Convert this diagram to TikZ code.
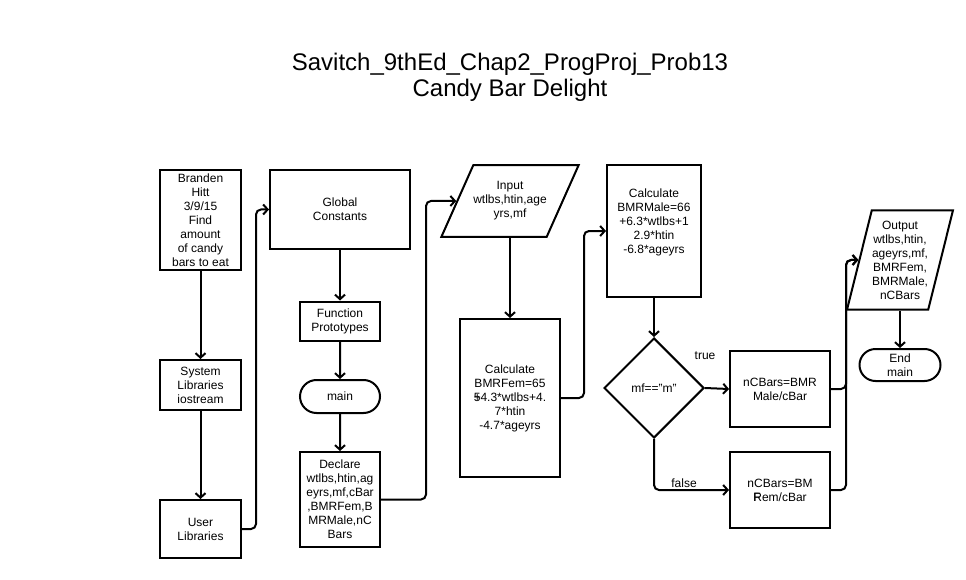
\documentclass[tikz,border=0pt]{standalone}
\usepackage{fontspec}
\setmainfont{Liberation Sans}
\usetikzlibrary{shapes.geometric,shapes.misc,arrows.meta}

\begin{document}
\begin{tikzpicture}[x=1pt,y=-1pt,
            every node/.style={font=\fontsize{12}{14}\selectfont, align=center},
            box/.style={draw, line width=2pt, inner sep=0pt},
            io/.style={draw, line width=2pt, trapezium, trapezium stretches body=true, inner xsep=0pt},
            term/.style={draw, line width=2pt, rounded rectangle, inner sep=0pt},
            decide/.style={draw, line width=2pt, diamond, inner sep=0pt,
                minimum width=100pt, minimum height=100pt},
            flow/.style={line width=2pt, rounded corners=5pt,
                -{Straight Barb[length=4.5pt,width=10pt]}}]
            \useasboundingbox (0,0) rectangle (966,580);
            \node[font=\fontsize{24}{26}\selectfont] (title) at (510,77)
                {Savitch\_9thEd\_Chap2\_ProgProj\_Prob13\\Candy Bar Delight};
            % left column
            \node[box, minimum width=81pt, minimum height=100pt] (author) at (200.5,220)
                {Branden\\Hitt\\3/9/15\\Find\\amount\\of candy\\bars to eat};
            \node[box, minimum width=81pt, minimum height=50pt] (syslib) at (200.5,385)
                {System\\Libraries\\iostream};
            \node[box, minimum width=81pt, minimum height=58pt] (userlib) at (200.5,529)
                {User\\Libraries};
            % second column
            \node[box, minimum width=140pt, minimum height=79pt] (global) at (340,209.5)
                {Global\\Constants};
            \node[box, minimum width=80pt, minimum height=39pt] (proto) at (340,321)
                {Function\\Prototypes};
            \node[term, minimum width=80pt, minimum height=33pt] (main) at (340,396.5) {main};
            \node[box, minimum width=80pt, minimum height=95pt] (declare) at (340,499.5)
                {Declare\\wtlbs,htin,ag\\eyrs,mf,cBar\\,BMRFem,B\\MRMale,nC\\Bars};
            % input and calculations
            \node[io, trapezium left angle=66, trapezium right angle=114,
                inner ysep=16.5pt, minimum width=134pt] (input) at (510,201)
                {Input\\wtlbs,htin,age\\yrs,mf};
            \node[box, minimum width=100pt, minimum height=158pt] (bmrfem) at (510,398)
                {Calculate\\BMRFem=65\\\rlap{+}54.3*wtlbs+4.\\7*htin\\-4.7*ageyrs};
            \node[box, minimum width=94pt, minimum height=132pt, text depth=20pt] (bmrmale) at (654,231)
                {Calculate\\BMRMale=66\\+6.3*wtlbs+1\\2.9*htin\\-6.8*ageyrs};
            \node[decide] (choice) at (654,388) {mf=="m"};
            \node[box, minimum width=100pt, minimum height=76pt] (male) at (780,389)
                {nCBars=BMR\\Male/cBar};
            \node[box, minimum width=100pt, minimum height=76pt] (fem) at (780,490)
                {nCBars=BM\\\rlap{F}Rem/cBar};
            % output
            \node[io, trapezium left angle=76, trapezium right angle=104,
                inner ysep=10.5pt, minimum width=106pt] (output) at (900,260)
                {Output\\wtlbs,htin,\\ageyrs,mf,\\BMRFem,\\BMRMale,\\nCBars};
            \node[term, minimum width=81pt, minimum height=32pt] (endmain) at (900,365) {End\\main};
            % connectors
            \draw[flow] (author) -- (syslib);
            \draw[flow] (syslib) -- (userlib);
            \draw[flow] (userlib.east) -- ++(14,0) |- (global.west);
            \draw[flow] (global) -- (proto);
            \draw[flow] (proto) -- (main);
            \draw[flow] (main) -- (declare);
            \draw[flow] (declare.east) -- ++(45,0) |- (input.west);
            \draw[flow] (input) -- (bmrfem);
            \draw[flow] (bmrfem.east) -- ++(23,0) |- (bmrmale.west);
            \draw[flow] (bmrmale) -- (choice);
            \draw[flow] (choice.east) -- node[pos=0, above=24pt] {true} (male.west);
            \draw[flow] (choice.south) |- node[pos=0.7, above, inner sep=1pt] {false} (fem.west);
            \draw[flow] (male.east) -- ++(15,0) |- (output.west);
            \draw[flow] (fem.east) -- ++(15,0) |- (output.west);
            \draw[flow] (output) -- (endmain);
            \end{tikzpicture}
\end{document}
